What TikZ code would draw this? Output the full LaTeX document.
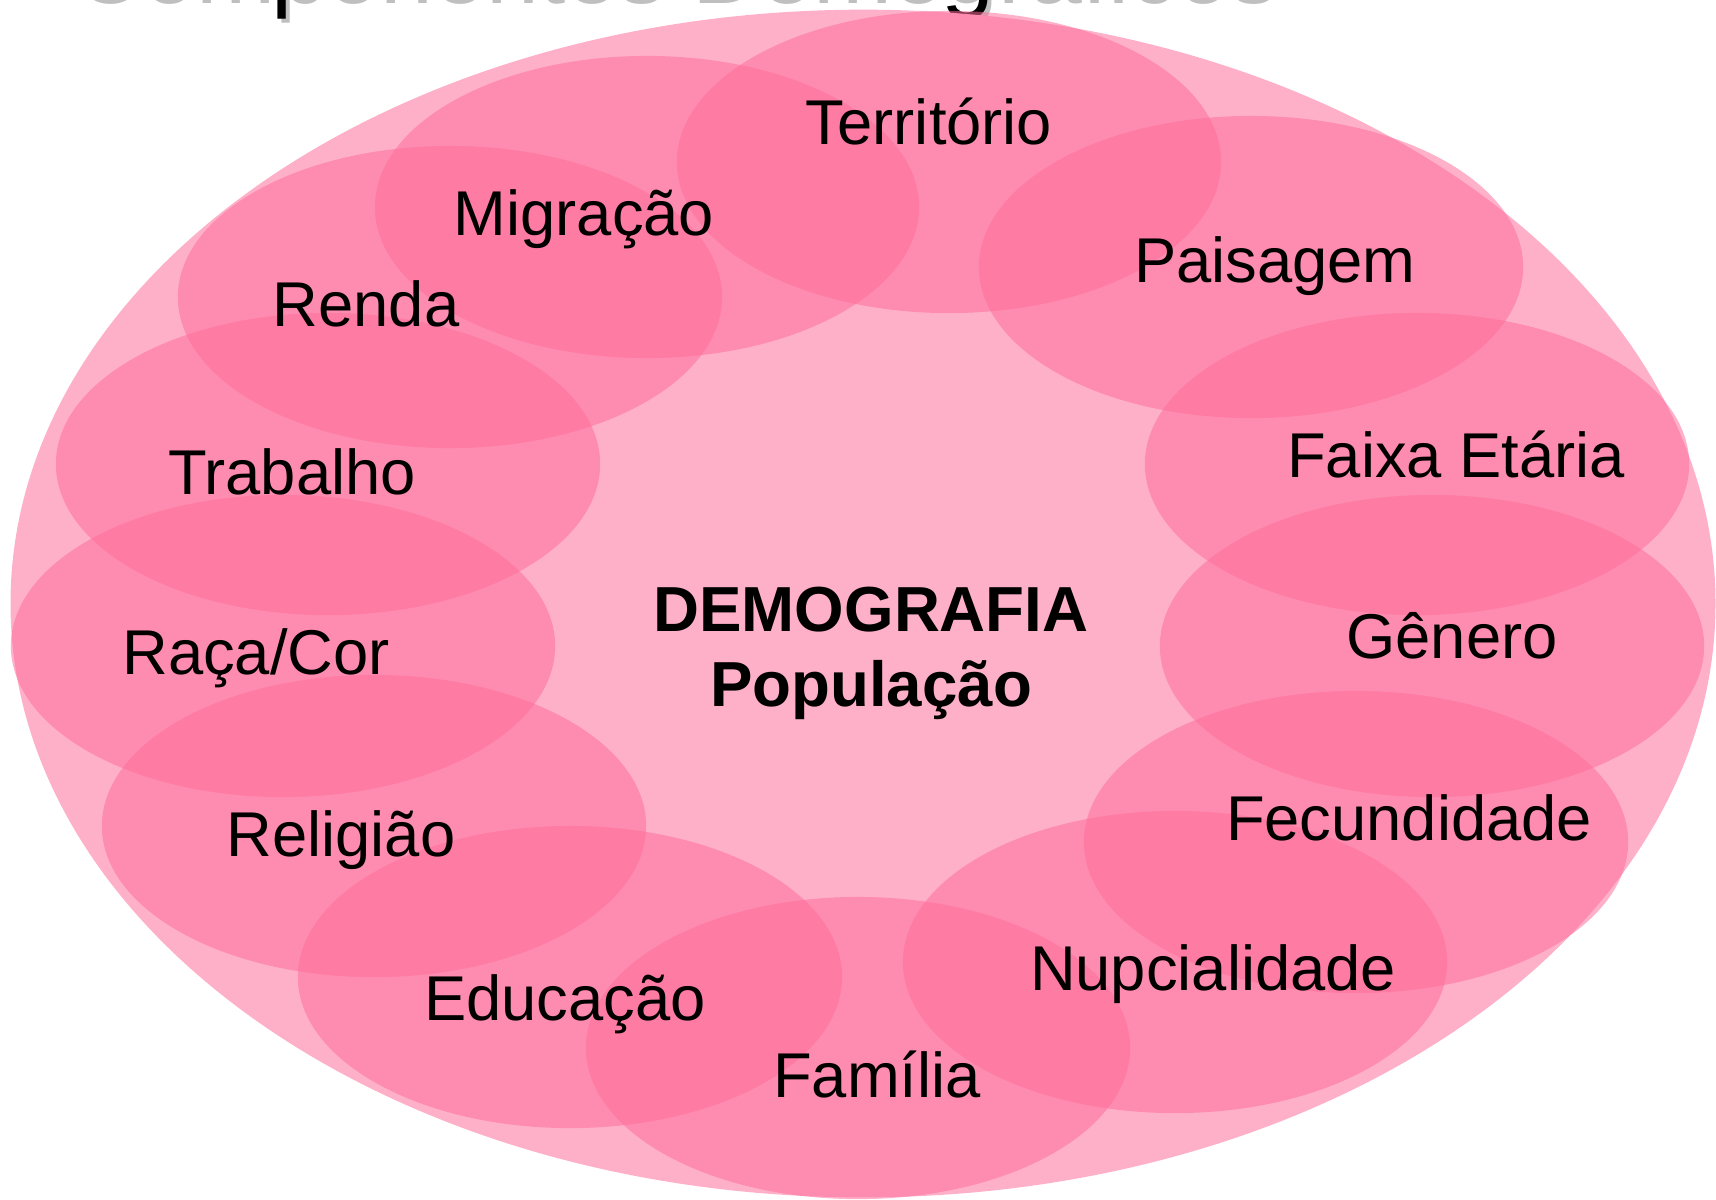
\documentclass[tikz,border=0pt]{standalone}
\usepackage{fontspec}
\setmainfont{Liberation Sans}
\usetikzlibrary{shapes.geometric}
\definecolor{fdb0c9}{rgb}{0.995,0.69,0.79}
\definecolor{ff6c9b}{rgb}{1.,0.424,0.608}
\definecolor{c0c0c0}{rgb}{0.75,0.75,0.75}
\tikzset{every node/.style={font=\fontsize{18}{21.5}\selectfont}}

\begin{document}
\begin{tikzpicture}[line cap=round,line join=round,x=0.01cm,y=-0.01cm,
    petala/.style={ellipse,inner sep=0pt,minimum width=5.44cm,minimum height=3.02cm,fill=ff6c9b,fill opacity=0.53},
    rotulo/.style={anchor=base,inner sep=0pt},
    titulo/.style={anchor=base west,inner sep=0pt,font=\fontsize{27}{32}\selectfont}]
\clip(0,0) rectangle (1716,1199);
% titulo cortado no alto
\node[titulo,text=c0c0c0] (sombra) at (74,3.5) {Componentes Demográficos};
\node[titulo,text=black] (tit) at (70,-1) {Componentes Demográficos};
% elipse grande
\node[ellipse,inner sep=0pt,minimum width=17.04cm,minimum height=11.87cm,fill=fdb0c9] (pop) at (863,603.5) {};
% petalas
\node[petala] (territorio) at (949,162) {};
\node[petala] (migracao) at (647,207) {};
\node[petala] (renda) at (450,297) {};
\node[petala] (trabalho) at (328,464) {};
\node[petala] (raca) at (283,646) {};
\node[petala] (religiao) at (374,826) {};
\node[petala] (educacao) at (570,977) {};
\node[petala] (familia) at (858,1048) {};
\node[petala] (nupcialidade) at (1175,962) {};
\node[petala] (fecundidade) at (1356,842) {};
\node[petala] (genero) at (1432,646) {};
\node[petala] (faixa) at (1417,464) {};
\node[petala] (paisagem) at (1251,267) {};
% rotulos
\node[rotulo] (lterritorio) at (929,144) {Território};
\node[rotulo] (lmigracao) at (584,235) {Migração};
\node[rotulo] (lrenda) at (366,326) {Renda};
\node[rotulo] (ltrabalho) at (292,494) {Trabalho};
\node[rotulo] (lraca) at (256,674) {Raça/Cor};
\node[rotulo] (lreligiao) at (341,856) {Religião};
\node[rotulo] (leducacao) at (565,1020) {Educação};
\node[rotulo] (lfamilia) at (877,1097) {Família};
\node[rotulo] (lnupcialidade) at (1213,990) {Nupcialidade};
\node[rotulo] (lfecundidade) at (1409,840) {Fecundidade};
\node[rotulo] (lgenero) at (1452,658) {Gênero};
\node[rotulo] (lfaixa) at (1456,477) {Faixa Etária};
\node[rotulo] (lpaisagem) at (1275,282) {Paisagem};
\node[rotulo,font=\bfseries\fontsize{18.1}{21.5}\selectfont] (demo) at (871,631) {DEMOGRAFIA};
\node[rotulo,font=\bfseries\fontsize{18.1}{21.5}\selectfont] (lpop) at (871,706) {População};
\end{tikzpicture}
\end{document}
